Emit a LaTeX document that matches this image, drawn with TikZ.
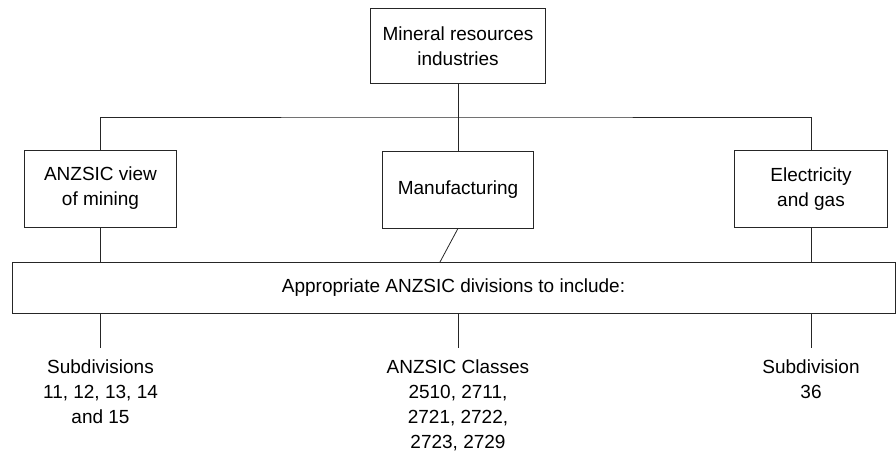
\documentclass[tikz,border=0pt]{standalone}
\usepackage{fontspec}
\setmainfont{Liberation Sans}
\usetikzlibrary{positioning}

\tikzset{
  box/.style       = {shape=rectangle, draw=black!85, line width=0.8pt,
                      align=center, inner sep=0pt},
  topbox/.style    = {box, minimum width=175pt, minimum height=75pt},
  sectorbox/.style = {box, minimum width=152pt, minimum height=77pt},
  widebox/.style   = {box, minimum width=883pt, minimum height=51pt},
  leaf/.style      = {align=center, inner xsep=0pt, inner ysep=12pt, anchor=north},
  link/.style      = {draw=black!85, line width=0.8pt}
}

\begin{document}
\begin{tikzpicture}
[
x=1pt, y=-1pt,
    every node/.style = {font=\fontsize{19}{25}\selectfont}
  ]
\useasboundingbox (0,0) rectangle (896,452);

\node[topbox] (mineral) at (458,46) {Mineral resources\\industries};

\node[sectorbox] (mining) at (100.5,188.5) {ANZSIC view\\of mining};
\node[sectorbox, minimum width=151pt] (manuf) at (458,189.5) {Manufacturing};
\node[sectorbox, minimum width=153pt] (elec) at (811,189) {Electricity\\and gas};

\node[widebox] (include) at (453.5,287.5) {Appropriate ANZSIC divisions to include:};

\node[leaf] (subdiv) at (100.5,348) {Subdivisions\\11, 12, 13, 14\\and 15};
\node[leaf] (classes) at (458,348) {ANZSIC Classes\\2510, 2711,\\2721, 2722,\\2723, 2729};
\node[leaf] (subone) at (811,348) {Subdivision\\36};

\coordinate (bus) at (458,117);
\coordinate (manuffoot) at (440,262);

\draw[link] (mineral.south) -- (bus);
\draw[link] (mining.north) |- (bus) -| (elec.north);
\draw[link] (bus) -- (manuf.north);

\draw[link] (mining.south) -- (mining.south |- include.north);
\draw[link] (manuf.south) -- (manuffoot);
\draw[link] (elec.south) -- (elec.south |- include.north);

\draw[link] (subdiv.north |- include.south) -- (subdiv.north);
\draw[link] (classes.north |- include.south) -- (classes.north);
\draw[link] (subone.north |- include.south) -- (subone.north);
\end{tikzpicture}
\end{document}
